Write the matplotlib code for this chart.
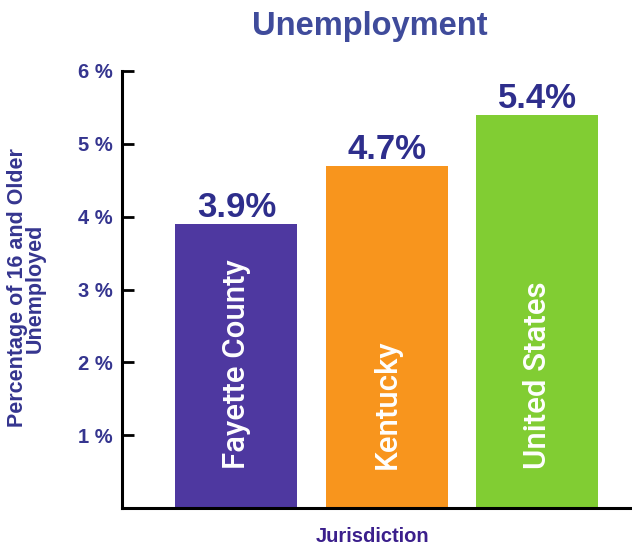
import matplotlib
matplotlib.use("Agg")
import matplotlib.pyplot as plt

jurisdictions = ["Fayette County", "Kentucky", "United States"]
rates = [3.9, 4.7, 5.4]
bar_colors = ["#4E38A0", "#F8951D", "#81CD33"]
y_ticks = [1, 2, 3, 4, 5, 6]
y_tick_labels = ["1 %", "2 %", "3 %", "4 %", "5 %", "6 %"]

navy = "#35358F"
title_color = "#3F4B9B"

fig = plt.figure(figsize=(6.32, 5.46), dpi=100)
ax = fig.add_axes([122 / 632, 38 / 546, 510 / 632, 437 / 546])

x = list(range(len(jurisdictions)))
bars = ax.bar(x, rates, width=0.81, color=bar_colors, zorder=2)

ax.set_xlim(-0.76, 2.63)
ax.set_ylim(0, 6)

for spine in ["top", "right"]:
    ax.spines[spine].set_visible(False)
for spine in ["left", "bottom"]:
    ax.spines[spine].set_linewidth(2.2)
    ax.spines[spine].set_color("black")

ax.set_xticks([])
ax.set_yticks([0] + y_ticks)
ax.set_yticklabels([""] + y_tick_labels, fontfamily="Liberation Sans",
                   fontweight="bold", fontsize=14.5, color=navy)
ax.tick_params(axis="y", direction="in", length=8.5, width=2, pad=7)

# value above each bar
for xi, val in zip(x, rates):
    ax.annotate(f"{val}%", xy=(xi, val), xytext=(0, 5), textcoords="offset points",
                ha="center", va="baseline", fontfamily="Liberation Sans",
                fontweight="bold", fontsize=25, color="#2E2E8C")

# jurisdiction names inside the bars
for xi, name in zip(x, jurisdictions):
    ax.annotate(name, xy=(xi, 0), xytext=(0, 28), textcoords="offset points",
                ha="center", va="bottom", rotation=90,
                fontfamily="Roboto", fontweight="medium", fontsize=22.5,
                color="white")

fig.text(370 / 632, 1 - 27 / 546, "Unemployment", ha="center", va="center",
         fontfamily="Liberation Sans", fontweight="bold", fontsize=23.5,
         color=title_color)
fig.text(26 / 632, 1 - 288 / 546, "Percentage of 16 and Older\nUnemployed",
         ha="center", va="center", rotation=90, linespacing=0.8,
         multialignment="center", fontfamily="Liberation Sans",
         fontweight="bold", fontsize=15.5, color=navy)
fig.text(373 / 632, 1 - 537 / 546, "Jurisdiction", ha="center", va="center",
         fontfamily="Liberation Sans", fontweight="bold", fontsize=14.5,
         color="#3B1F8C")

fig.savefig("out.png", dpi=100)
